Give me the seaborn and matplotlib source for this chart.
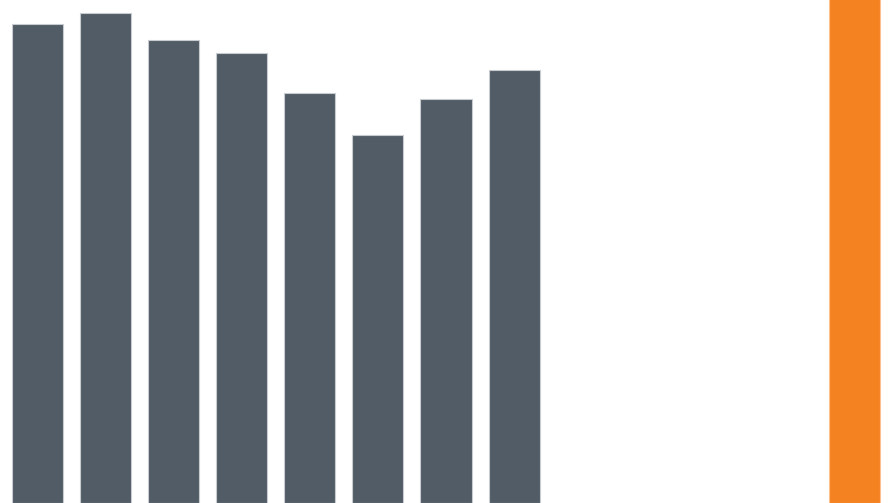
import numpy as np
import pandas as pd
import matplotlib
matplotlib.use("Agg")
import matplotlib.pyplot as plt
import seaborn as sns

# slots 0-7 gray bars, 8-11 empty, 12 orange bar (runs off the top)
slots = list(range(13))
values = [95.2, 97.4, 92.0, 89.5, 81.5, 73.2, 80.3, 86.1, 0, 0, 0, 0, 110.0]
colors = ['#525c66'] * 8 + ['#ffffff'] * 4 + ['#f58220']

df = pd.DataFrame({'slot': slots, 'value': values})

sns.set_style('white')
fig = plt.figure(figsize=(8.94, 5.03), dpi=100)
ax = fig.add_axes([0, 0, 1, 1])

sns.barplot(data=df, x='slot', y='value', hue='slot', palette=colors,
            legend=False, width=0.75, edgecolor='#c8ccd0', linewidth=0.8,
            saturation=1, ax=ax)
for p, v in zip(ax.patches, values):
    if v == 0:
        p.set_visible(False)
    elif v > 100:
        p.set_edgecolor('#fbc08f')

ax.set_xlim(-0.55, 12.58)
ax.set_ylim(0, 100)
ax.axis('off')

plt.savefig('out.png', dpi=100)
